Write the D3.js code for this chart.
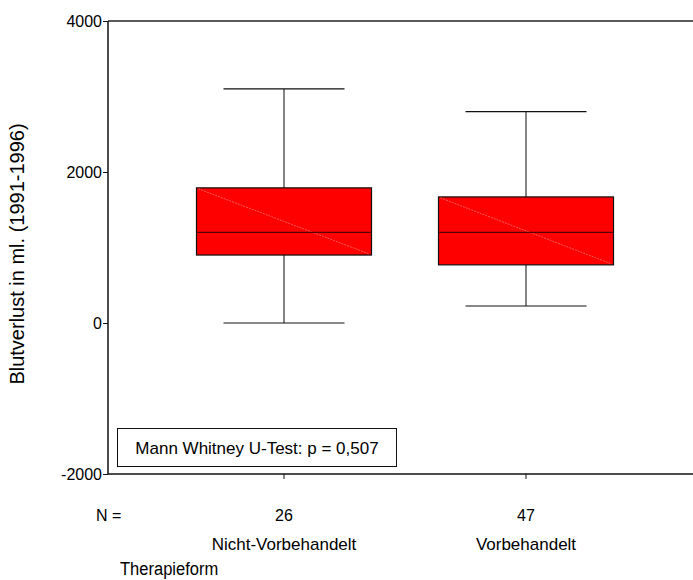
<!DOCTYPE html>
<html><head><meta charset="utf-8">
<script src="https://cdn.jsdelivr.net/npm/d3@7"></script>
<style>body{margin:0;background:#fff}svg{display:block}text{font-family:"Liberation Sans",Arial,sans-serif;fill:#000}</style>
</head><body>
<svg id="c" width="693" height="580"></svg>
<script>
const categories = ["Nicht-Vorbehandelt", "Vorbehandelt"];
const counts = [26, 47];
const whiskerLow = [0, 225];
const q1 = [900, 770];
const median = [1200, 1200];
const q3 = [1790, 1670];
const whiskerHigh = [3100, 2800];
const yTicks = [-2000, 0, 2000, 4000];
const yTitle = "Blutverlust in ml. (1991-1996)";
const xTitle = "Therapieform";
const note = "Mann Whitney U-Test: p = 0,507";

const svg = d3.select("#c");
const pL = 108, pR = 693, pT = 21, pB = 474;
const y = d3.scaleLinear().domain([-2000, 4000]).range([pB, pT]);
const x = d3.scaleBand().domain(categories).range([163, 647]).padding(0);
const boxW = 175, capW = 121;

// frame
svg.append("line").attr("x1", pL).attr("x2", pR).attr("y1", pT).attr("y2", pT).attr("stroke", "#222").attr("stroke-width", 1.3);
svg.append("line").attr("x1", pL).attr("x2", pR).attr("y1", pB).attr("y2", pB).attr("stroke", "#111").attr("stroke-width", 1.5);

// y axis
const ya = svg.append("g").attr("transform", `translate(${pL},0)`)
  .call(d3.axisLeft(y).tickValues(yTicks).tickSize(5).tickPadding(1).tickFormat(d => String(d)));
ya.select(".domain").attr("stroke", "#111").attr("stroke-width", 1.5).attr("d", `M0,${pT}V${pB}`);
ya.selectAll("text").style("font-size", "16px").attr("font-family", null);
ya.selectAll(".tick line").attr("stroke", "#111");

// x ticks
const xa = svg.append("g").attr("transform", `translate(0,${pB})`)
  .call(d3.axisBottom(x).tickSize(5).tickFormat((d, i) => counts[i]).tickPadding(0));
xa.select(".domain").remove();
xa.selectAll("text").style("font-size", "16px").attr("font-family", null).attr("dy", null).attr("y", 47);
xa.selectAll(".tick line").attr("stroke", "#111");
svg.selectAll(".catlbl").data(categories).enter().append("text")
  .attr("x", d => x(d) + x.bandwidth() / 2).attr("y", 550).attr("text-anchor", "middle")
  .style("font-size", "17px").text(d => d);
svg.append("text").attr("x", 96).attr("y", 521).style("font-size", "16px").text("N =");

// boxes
const g = svg.selectAll(".box").data(categories).enter().append("g");
g.each(function (d, i) {
  const s = d3.select(this);
  const cx = x(d) + x.bandwidth() / 2;
  s.append("line").attr("x1", cx).attr("x2", cx).attr("y1", y(whiskerHigh[i])).attr("y2", y(q3[i])).attr("stroke", "#333").attr("stroke-width", 1.2);
  s.append("line").attr("x1", cx).attr("x2", cx).attr("y1", y(q1[i])).attr("y2", y(whiskerLow[i])).attr("stroke", "#333").attr("stroke-width", 1.2);
  s.append("line").attr("x1", cx - capW / 2).attr("x2", cx + capW / 2).attr("y1", y(whiskerHigh[i])).attr("y2", y(whiskerHigh[i])).attr("stroke", "#111").attr("stroke-width", 1.2);
  s.append("line").attr("x1", cx - capW / 2).attr("x2", cx + capW / 2).attr("y1", y(whiskerLow[i])).attr("y2", y(whiskerLow[i])).attr("stroke", "#111").attr("stroke-width", 1.2);
  s.append("rect").attr("x", cx - boxW / 2).attr("width", boxW).attr("y", y(q3[i])).attr("height", y(q1[i]) - y(q3[i]))
    .attr("fill", "#ff0000").attr("stroke", "#111").attr("stroke-width", 1.2);
  s.append("line").attr("x1", cx - boxW / 2 + 2).attr("y1", y(q3[i]) + 1).attr("x2", cx + boxW / 2 - 2).attr("y2", y(q1[i]) - 1)
    .attr("stroke", "#ff7070").attr("stroke-width", 0.8).attr("stroke-dasharray", "2,1");
  s.append("line").attr("x1", cx - boxW / 2).attr("x2", cx + boxW / 2).attr("y1", y(median[i])).attr("y2", y(median[i])).attr("stroke", "#5a0000").attr("stroke-width", 1.4);
});

// note box
svg.append("rect").attr("x", 117.5).attr("y", 428.5).attr("width", 279).attr("height", 38).attr("fill", "#fff").attr("stroke", "#111").attr("stroke-width", 1);
svg.append("text").attr("x", 257).attr("y", 453.5).attr("text-anchor", "middle").style("font-size", "17px").text(note);

// titles
svg.append("text").attr("transform", "translate(24,254) rotate(-90)").attr("text-anchor", "middle").style("font-size", "20px").text(yTitle);
svg.append("text").attr("transform", "translate(120,575) scale(0.87,1)").style("font-size", "19px").text(xTitle);
</script>
</body></html>
